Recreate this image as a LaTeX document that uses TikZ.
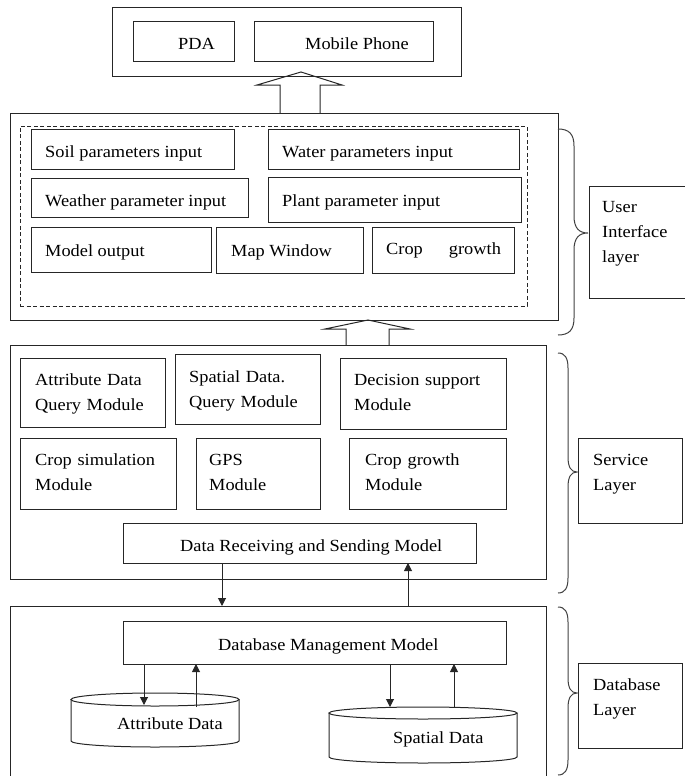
\documentclass[tikz,border=0pt]{standalone}
\usepackage{fontspec}
\setmainfont{Liberation Serif}[FakeStretch=1.08]
\usetikzlibrary{arrows.meta}
\newcommand\mybox[6][]{\node[boxst,#1,minimum width={(#5)-(#3)},minimum height={(#6)-(#4)}] (#2) at ({((#3)+(#5))/2},{((#4)+(#6))/2}) {};}
\begin{document}
\begin{tikzpicture}[x=1pt,y=-1pt,
 boxst/.style={draw=black!85, line width=1pt, inner sep=0pt, outer sep=0pt},
 lbl/.style={inner sep=0pt, anchor=base west, font=\fontsize{17}{25}\selectfont},
 lblm/.style={lbl, text width=160pt, align=left},
 arr/.style={draw=black!85, line width=1pt, -{Triangle[length=8pt,width=8pt]}},
 hollow/.style={draw=black!85, line width=1pt, fill=white, line join=miter},
 bracest/.style={draw=black!75, line width=1pt}]
\useasboundingbox (0,0) rectangle (685,776);
% hollow block arrows
\draw[hollow] (280,113) -- (280,85) -- (257,85) -- (301,72) -- (342,85) -- (320,85) -- (320,113);
\draw[hollow] (346,345) -- (346,329) -- (325,329) -- (368,320) -- (410,329) -- (389,329) -- (389,345);
% top
\mybox{top}{112}{8}{461}{76}
\mybox{pda}{133}{22}{234}{62}
\mybox{mob}{254}{22}{433}{62}
\node[lbl] (pdaT) at (178,49) {PDA};
\node[lbl] (mobT) at (305,49) {Mobile Phone};
% user interface layer
\mybox{ui}{10}{113}{558}{320}
\mybox[dash pattern=on 4pt off 2.5pt]{uidash}{20}{126}{527}{306}
\mybox{soil}{31}{129}{234}{169}
\mybox{water}{268}{129}{519}{169}
\mybox{weather}{31}{178}{248}{217}
\mybox{plant}{268}{177}{521}{222}
\mybox{model}{31}{227}{211}{272}
\mybox{map}{216}{227}{363}{273}
\mybox{cropg}{372}{227}{514}{273}
\node[lbl] (soilT) at (45,157) {Soil parameters input};
\node[lbl] (waterT) at (282,157) {Water parameters input};
\node[lbl] (weatherT) at (45,206) {Weather parameter input};
\node[lbl] (plantT) at (282,206) {Plant parameter input};
\node[lbl] (modelT) at (45,256) {Model output};
\node[lbl] (mapT) at (231,256) {Map Window};
\node[lbl] (cropgT) at (386,254) {Crop\hspace{26pt}growth};
\mybox{uilab}{589}{186}{688}{298}
\node[lblm] (uilabT) at (602,212) {User\\Interface\\layer};
% service layer
\mybox{service}{10}{345}{546}{579}
\mybox{adq}{20}{358}{165}{427}
\mybox{sdq}{175}{354}{320}{424}
\mybox{dsm}{340}{358}{506}{429}
\mybox{csm}{20}{438}{176}{509}
\mybox{gps}{196}{438}{320}{509}
\mybox{cgm}{349}{438}{506}{509}
\mybox{drs}{123}{523}{476}{563}
\node[lblm] (adqT) at (35,385) {Attribute Data\\Query Module};
\node[lblm] (sdqT) at (189,382) {Spatial Data.\\Query Module};
\node[lblm] (dsmT) at (354,385) {Decision support\\Module};
\node[lblm] (csmT) at (35,465) {Crop simulation\\Module};
\node[lblm] (gpsT) at (209,465) {GPS\\Module};
\node[lblm] (cgmT) at (365,465) {Crop growth\\Module};
\node[lbl] (drsT) at (180,551) {Data Receiving and Sending Model};
\mybox{svlab}{578}{438}{682}{523}
\node[lblm] (svlabT) at (593,465) {Service\\Layer};
% database layer
\mybox{db}{10}{606}{546}{800}
\mybox{dbmm}{123}{621}{506}{664}
\node[lbl] (dbmmT) at (218,650) {Database Management Model};
\mybox{dblab}{578}{663}{682}{748}
\node[lblm] (dblabT) at (593,690) {Database\\Layer};
% cylinders
\draw[boxst] (71,699.5) -- (71,741) arc[start angle=180,end angle=360,x radius=84pt,y radius=6pt] -- (239,699.5);
\draw[boxst] (155,699.5) ellipse[x radius=84pt,y radius=6.5pt];
\draw[boxst] (329,713) -- (329,757) arc[start angle=180,end angle=360,x radius=94pt,y radius=6pt] -- (517,713);
\draw[boxst] (423,713) ellipse[x radius=94pt,y radius=6pt];
\node[lbl] (attrT) at (117,729) {Attribute Data};
\node[lbl] (spatT) at (393,743) {Spatial Data};
\coordinate (a1) at (144,705);
\coordinate (a2) at (196,707);
\coordinate (s1) at (390,707);
\coordinate (s2) at (454,707);
% connectors
\draw[arr] (drs.south -| 222,0) -- (222,0 |- db.north);
\draw[arr] (408,0 |- db.north) -- (drs.south -| 408,0);
\draw[arr] (dbmm.south -| a1) -- (a1);
\draw[arr] (a2) -- (dbmm.south -| a2);
\draw[arr] (dbmm.south -| s1) -- (s1);
\draw[arr] (s2) -- (dbmm.south -| s2);
% braces
\draw[bracest] (558,129) .. controls (569,129) and (574,134) .. (574,146) -- (574,216) .. controls (574,228) and (579,233) .. (588,233) .. controls (579,233) and (574,238) .. (574,250) -- (574,318) .. controls (574,330) and (569,335) .. (558,335);
\draw[bracest] (558,353) .. controls (565,353) and (568,358) .. (568,368) -- (568,457) .. controls (568,467) and (571,472) .. (577,472) .. controls (571,472) and (568,477) .. (568,487) -- (568,578) .. controls (568,588) and (565,593) .. (558,593);
\draw[bracest] (558,607) .. controls (565,607) and (568,612) .. (568,622) -- (568,678) .. controls (568,688) and (571,693) .. (577,693) .. controls (571,693) and (568,698) .. (568,708) -- (568,760) .. controls (568,770) and (565,775) .. (558,775);
\end{tikzpicture}
\end{document}
